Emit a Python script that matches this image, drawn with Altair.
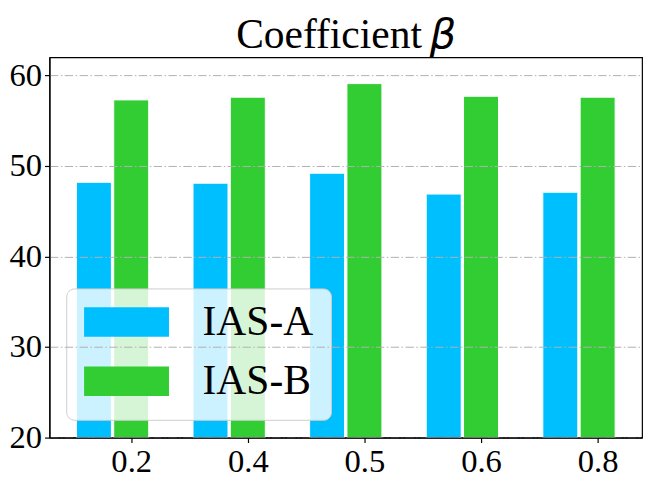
import altair as alt
import pandas as pd

categories = ["0.2", "0.4", "0.5", "0.6", "0.8"]
series_names = ["IAS-A", "IAS-B"]
ias_a = [48.2, 48.1, 49.2, 46.9, 47.1]
ias_b = [57.3, 57.6, 59.1, 57.7, 57.6]
colors = ["#00BFFF", "#32CD32"]
y_ticks = [20, 30, 40, 50, 60]
title_word = "Coefficient"
title_symbol = "β"

rows = []
for i, c in enumerate(categories):
    rows.append({"idx": i, "cat": c, "series": series_names[0], "value": ias_a[i]})
    rows.append({"idx": i, "cat": c, "series": series_names[1], "value": ias_b[i]})
df = pd.DataFrame(rows)

label_expr = "[" + ",".join("'%s'" % c for c in categories) + "][datum.value]"

FONT = "Liberation Serif"
W, H = 600, 385

bars = (
    alt.Chart(df)
    .transform_calculate(
        pos="datum.idx + (datum.series == 'IAS-A' ? -0.32 : 0)"
    )
    .transform_calculate(left="datum.pos - 0.15", right="datum.pos + 0.15")
    .mark_bar(stroke="white", strokeWidth=1)
    .encode(
        x=alt.X(
            "left:Q",
            scale=alt.Scale(domain=[-0.701, 4.381], nice=False, zero=False),
            axis=alt.Axis(
                values=list(range(len(categories))),
                labelExpr=label_expr,
                title=None,
                grid=False,
                tickSize=5,
                labelPadding=3,
                labelFont=FONT,
                labelFontSize=33,
                labelColor="black",
                domainColor="black",
                domainWidth=1.2,
                tickColor="black",
                tickWidth=1.2,
                zindex=2,
            ),
        ),
        x2="right:Q",
        y=alt.Y(
            "value:Q",
            scale=alt.Scale(domain=[20, 62], nice=False, zero=False),
            axis=alt.Axis(
                values=y_ticks,
                title=None,
                grid=True,
                gridColor="#b0b0b0",
                gridWidth=1,
                gridDash=[8.5, 2.5, 1.5, 2.5],
                tickSize=5,
                labelPadding=3,
                labelFont=FONT,
                labelFontSize=33,
                labelColor="black",
                domainColor="black",
                domainWidth=1.2,
                tickColor="black",
                tickWidth=1.2,
                zindex=1,
            ),
        ),
        y2=alt.datum(20),
        color=alt.Color(
            "series:N",
            scale=alt.Scale(domain=series_names, range=colors),
            legend=alt.Legend(
                title=None,
                orient="none",
                legendX=17,
                legendY=234,
                symbolType="M-1,-0.349L1,-0.349L1,0.349L-1,0.349Z",
                symbolSize=7396,
                symbolStrokeWidth=0,
                symbolOpacity=1,
                clipHeight=32,
                labelFont=FONT,
                labelFontSize=42,
                labelColor="black",
                labelOffset=34,
                labelLimit=0,
                rowPadding=18,
                padding=18,
                fillColor="rgba(255,255,255,0.8)",
                strokeColor="#cccccc",
                cornerRadius=8,
            ),
        ),
    )
)

title_a = (
    alt.Chart(pd.DataFrame({"t": [title_word]}))
    .mark_text(
        font=FONT,
        fontSize=42,
        align="left",
        baseline="alphabetic",
        color="black",
    )
    .encode(x=alt.value(189), y=alt.value(-9), text="t:N")
)

title_b = (
    alt.Chart(pd.DataFrame({"t": [title_symbol]}))
    .mark_text(
        font="DejaVu Sans",
        fontStyle="italic",
        fontSize=42,
        align="left",
        baseline="alphabetic",
        color="black",
    )
    .encode(x=alt.value(385), y=alt.value(-9), text="t:N")
)

chart = (
    alt.layer(bars, title_a, title_b)
    .properties(
        width=W,
        height=H,
        autosize=alt.AutoSizeParams(type="none"),
        padding={"left": 42, "top": 47, "right": 5, "bottom": 42},
    )
    .configure_view(stroke="black", strokeWidth=1.2)
)

chart.save("out.html", embed_options={"renderer": "svg", "actions": False})
